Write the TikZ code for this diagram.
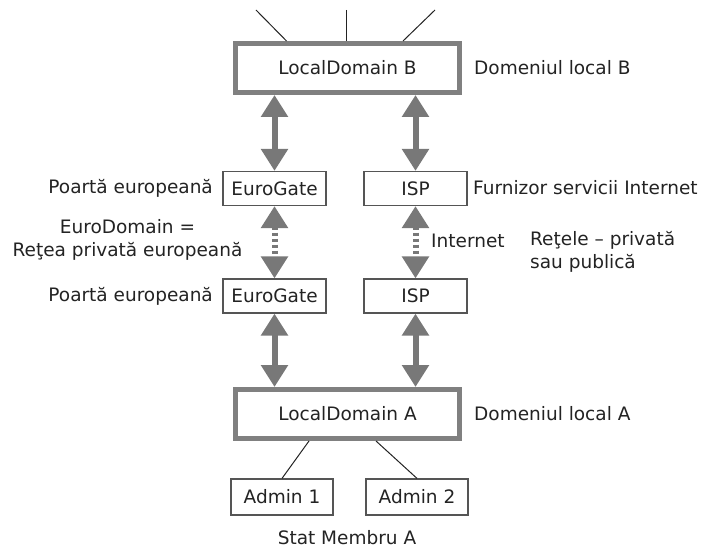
\documentclass[tikz,border=0pt]{standalone}
\usepackage{fontspec}
\setmainfont{DejaVu Sans}
\usetikzlibrary{arrows.meta,positioning}
\definecolor{arrowgray}{RGB}{120,120,120}
\definecolor{framegray}{RGB}{128,128,128}
\definecolor{boxgray}{RGB}{85,85,85}
\definecolor{textgray}{RGB}{35,35,35}
\tikzset{
  domainbox/.style={draw=framegray, line width=5pt, minimum width=224pt, minimum height=49pt, inner sep=0pt},
  gatebox/.style={draw=boxgray, line width=1.2pt, minimum width=103pt, minimum height=34pt, inner sep=0pt},
  bigarrow/.style={draw=arrowgray, line width=6pt, {Triangle[width=26pt,length=22pt]}-{Triangle[width=26pt,length=22pt]}},
  dotarrow/.style={bigarrow, dash pattern=on 3pt off 3pt},
  thinline/.style={draw=textgray, line width=1pt},
  lbl/.style={text=textgray, inner sep=0pt}
}
\begin{document}
\begin{tikzpicture}[x=1pt, y=-1pt, font=\fontsize{18.5}{22.5}\selectfont, text=textgray]
    \useasboundingbox (0,0) rectangle (707,548);
    % --- domains ---
    \node[domainbox] (ldB) at (347.5,68) {LocalDomain B};
    \node[domainbox] (ldA) at (347.5,414) {LocalDomain A};
    % --- gateways ---
    \node[gatebox] (egT) at (274.5,188.5) {EuroGate};
    \node[gatebox] (ispT) at (415.5,188.5) {ISP};
    \node[gatebox] (egB) at (274.5,296) {EuroGate};
    \node[gatebox] (ispB) at (415.5,296) {ISP};
    \node[gatebox, minimum width=102pt, minimum height=36pt] (adm1) at (282,497) {Admin 1};
    \node[gatebox, minimum width=102pt, minimum height=36pt] (adm2) at (417,497) {Admin 2};
    % --- links ---
    \draw[bigarrow] (ldB.south -| egT) -- (egT.north);
    \draw[bigarrow] (ldB.south -| ispT) -- (ispT.north);
    \draw[dotarrow] (egT.south) -- (egB.north);
    \draw[dotarrow] (ispT.south) -- (ispB.north);
    \draw[bigarrow] (egB.south) -- (ldA.north -| egB);
    \draw[bigarrow] (ispB.south) -- (ldA.north -| ispB);
    \coordinate (t1) at (256,10);
    \coordinate (t2) at (346,10);
    \coordinate (t3) at (435,10);
    \draw[thinline] (t1) -- ([xshift=-61pt]ldB.north);
    \draw[thinline] (t2) -- ([xshift=-1.5pt]ldB.north);
    \draw[thinline] (t3) -- ([xshift=55.5pt]ldB.north);
    \draw[thinline] ([xshift=-38.5pt]ldA.south) -- (adm1.north);
    \draw[thinline] ([xshift=28.5pt]ldA.south) -- (adm2.north);
    % --- labels ---
    \node[lbl, anchor=west] (lB) at (474,68) {Domeniul local B};
    \node[lbl, anchor=west] (lA) at (474,414) {Domeniul local A};
    \node[lbl, anchor=east] (pT) at (213,188) {Poartă europeană};
    \node[lbl, anchor=east] (pB) at (213,296) {Poartă europeană};
    \node[lbl, align=center] (eud) at (127.5,240) {EuroDomain =\\Reţea privată europeană};
    \node[lbl, anchor=west] (fsi) at (473,188) {Furnizor servicii Internet};
    \node[lbl, anchor=west] (inet) at (431,241) {Internet};
    \node[lbl, anchor=west, align=left] (rtl) at (530,252) {Reţele – privată\\sau publică};
    \node[lbl] (smA) at (347,538) {Stat Membru A};
\end{tikzpicture}
\end{document}
